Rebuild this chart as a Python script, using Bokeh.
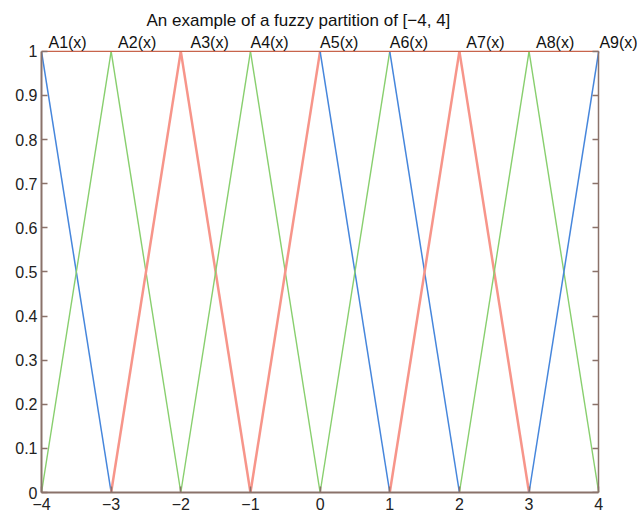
from bokeh.plotting import figure
from bokeh.models import LinearAxis, FixedTicker, Range1d, Title
from bokeh.core.properties import value
from bokeh.embed import file_html
from bokeh.resources import INLINE

# ---- data ----
names = ["A1(x)", "A2(x)", "A3(x)", "A4(x)", "A5(x)", "A6(x)", "A7(x)", "A8(x)", "A9(x)"]
centers = [-4, -3, -2, -1, 0, 1, 2, 3, 4]
width_half = 1.0
left_colors = [None, "green", "red", "green", "red", "green", "red", "green", "blue"]
right_colors = ["blue", "green", "red", "green", "blue", "blue", "red", "green", None]
label_shift = [0.1, 0.1, 0.14, 0.0, 0.0, 0.0, 0.1, 0.1, 0.01]
x_ticks = [-4, -3, -2, -1, 0, 1, 2, 3, 4]
x_tick_labels = ["\u22124", "\u22123", "\u22122", "\u22121", "0", "1", "2", "3", "4"]
y_ticks = [0, 0.1, 0.2, 0.3, 0.4, 0.5, 0.6, 0.7, 0.8, 0.9, 1]
y_tick_labels = ["0", "0.1", "0.2", "0.3", "0.4", "0.5", "0.6", "0.7", "0.8", "0.9", "1"]
title_text = "An example of a fuzzy partition of [\u22124, 4]"

palette = {"blue": "#4686dc", "green": "#88cf6e", "red": "#f7958a"}
widths = {"blue": 1.5, "green": 1.4, "red": 2.5}

FONT = "Liberation Sans"
AX = "#8a726a"

x0, x1 = x_ticks[0], x_ticks[-1]
y0, y1 = y_ticks[0], y_ticks[-1]

# frame is a little larger than the data box so that the A-labels above the box are not clipped
p = figure(width=642, height=512, output_backend="svg", toolbar_location=None,
           x_range=Range1d(x0, 4.6), y_range=Range1d(y0, 1.036),
           min_border_left=41, min_border_right=2, min_border_top=35, min_border_bottom=10)
p.title = None
p.add_layout(Title(text=title_text, align="left", text_font=FONT, text_font_size="17px",
                   text_font_style="normal", text_color="#111111", standoff=12, offset=105), "above")

p.xgrid.visible = False
p.ygrid.visible = False
p.outline_line_color = None
p.background_fill_color = "white"
p.border_fill_color = "white"

for ax, ticks, labels, bnds in ((p.xaxis[0], x_ticks, x_tick_labels, (x0, x1)),
                                (p.yaxis[0], y_ticks, y_tick_labels, (y0, y1))):
    ax.ticker = FixedTicker(ticks=ticks)
    ax.bounds = bnds
    ax.major_label_overrides = {t: l for t, l in zip(ticks, labels)}
    ax.major_tick_in = 6
    ax.major_tick_out = 0
    ax.minor_tick_in = 0
    ax.minor_tick_out = 0
    ax.axis_line_color = AX
    ax.axis_line_width = 2
    ax.major_tick_line_color = AX
    ax.major_tick_line_width = 1.5
    ax.major_label_text_font = FONT
    ax.major_label_text_font_size = "16px"
    ax.major_label_text_color = "#222222"
    ax.major_label_standoff = 4

p.xaxis[0].major_label_standoff = 5

# right-hand border with inward ticks, fixed at x = 4
right = LinearAxis(ticker=FixedTicker(ticks=y_ticks), bounds=(y0, y1), fixed_location=x1,
                   major_label_overrides={t: "" for t in y_ticks},
                   major_tick_in=0, major_tick_out=6, minor_tick_in=0, minor_tick_out=0,
                   axis_line_color=AX, major_tick_line_color=AX, axis_line_width=1.5,
                   major_tick_line_width=1.5, major_label_standoff=0)
p.add_layout(right, "left")

# membership functions
for c, lc, rc in zip(centers, left_colors, right_colors):
    if lc is not None:
        p.line([c - width_half, c], [0, 1], line_color=palette[lc], line_width=widths[lc])
    if rc is not None:
        p.line([c, c + width_half], [1, 0], line_color=palette[rc], line_width=widths[rc])

# top border of the box
p.line([x0, x1], [y1, y1], line_color="#c8644c", line_width=1.3)

# labels A1(x) ... A9(x)
p.text(x=[c + s for c, s in zip(centers, label_shift)], y=[y1] * len(centers), text=names,
       text_font=value(FONT), text_font_size="16px", text_color="#111111",
       text_baseline="bottom", text_align="left")

open("out.html", "w").write(file_html(p, INLINE))
